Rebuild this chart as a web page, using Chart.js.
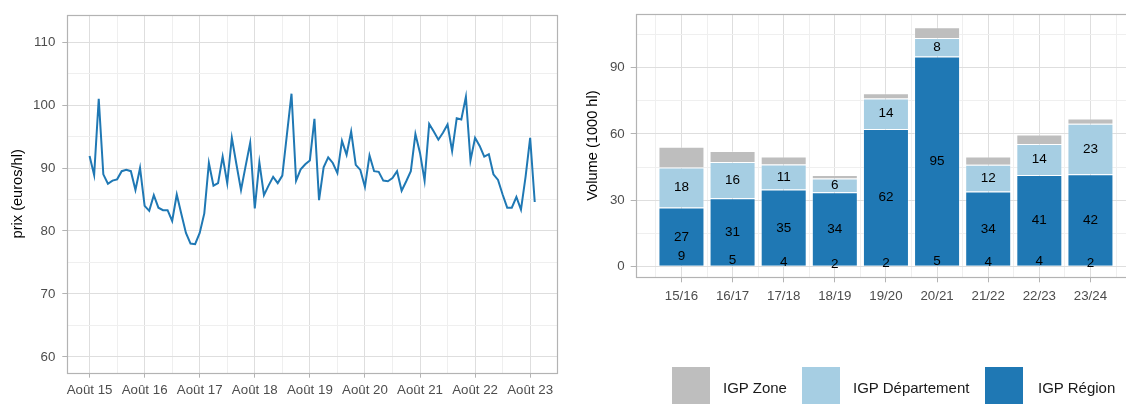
<!DOCTYPE html>
<html lang="fr">
<head>
<meta charset="utf-8">
<script src="https://cdn.jsdelivr.net/npm/chart.js@4.4.1/dist/chart.umd.min.js"></script>
<style>
  html,body{margin:0;padding:0;background:#fff;width:1126px;height:404px;overflow:hidden;font-family:"Liberation Sans",Arial,sans-serif}
  #cPrix{position:absolute;left:0;top:0}
  #cVol{position:absolute;left:565px;top:0}
  .leg-key{position:absolute;top:367px;width:38px;height:42px}
  .leg-lab{position:absolute;top:379px;font-size:15px;line-height:18px;color:#1a1a1a;white-space:nowrap}
</style>
</head>
<body>
<canvas id="cPrix" width="565" height="404"></canvas>
<canvas id="cVol" width="580" height="404"></canvas>
<div id="legende"></div>
<script>
// prix mensuel, août 2015 -> septembre 2023 (euros/hl)
const prix = [
  91.9, 88.9, 101.0, 89.0, 87.5, 88.0, 88.2, 89.5, 89.7, 89.5, 86.5, 90.0,
  84.0, 83.2, 85.7, 83.7, 83.3, 83.3, 81.6, 85.8, 82.7, 79.7, 78.0, 77.9,
  79.7, 82.8, 90.8, 87.2, 87.6, 91.8, 87.6, 94.8, 90.6, 86.5, 90.3, 94.0,
  83.6, 90.9, 85.7, 87.2, 88.6, 87.6, 88.8, 95.3, 101.8, 88.0, 89.8, 90.6,
  91.2, 97.8, 84.9, 90.1, 91.7, 90.8, 89.2, 94.3, 92.1, 95.8, 90.5, 89.7,
  87.0, 92.0, 89.5, 89.4, 88.0, 87.9, 88.4, 89.5, 86.4, 87.9, 89.5, 95.4,
  92.4, 88.0, 97.0, 95.8, 94.5, 95.6, 96.9, 92.7, 97.9, 97.7, 101.3, 91.2,
  94.8, 93.5, 91.8, 92.2, 89.0, 88.1, 85.8, 83.7, 83.7, 85.4, 83.4, 88.6,
  94.8, 84.6
];
const anneesLabels = ['Août 15','Août 16','Août 17','Août 18','Août 19','Août 20','Août 21','Août 22','Août 23'];
const prixTicks = [60,65,70,75,80,85,90,95,100,105,110];

const campagnes = ['15/16','16/17','17/18','18/19','19/20','20/21','21/22','22/23','23/24'];
const igpRegion = [26.6, 30.9, 34.8, 33.6, 62.3, 95.1, 33.9, 41.4, 41.7];
const igpDepartement = [18.2, 16.4, 11.3, 6.2, 13.8, 8.4, 12.1, 14.0, 22.9];
const igpZone = [9.4, 5.0, 3.7, 1.6, 2.4, 4.9, 3.8, 4.4, 2.4];
const volTicks = [0,15,30,45,60,75,90,105];

const COUL = {region:'#1f78b4', dept:'#a6cee3', zone:'#bebebe'};
const GRID_MAJ = '#dedede', GRID_MIN = '#efefef', TICK = '#b3b3b3', TXT = '#4d4d4d';
const FONT = '"Liberation Sans", Arial, sans-serif';

const cadre = {
  id:'cadre',
  afterDraw(chart){
    const {ctx, chartArea:a} = chart;
    ctx.save();
    ctx.strokeStyle = '#b3b3b3'; ctx.lineWidth = 1.2;
    ctx.strokeRect(Math.round(a.left)+0.5, Math.round(a.top)+0.5, Math.round(a.right-a.left), Math.round(a.bottom-a.top));
    ctx.restore();
  }
};

const tickFont = {family:FONT, size:13.3};
const titleFont = {family:FONT, size:14.6};

new Chart(document.getElementById('cPrix'), {
  type:'line',
  data:{datasets:[{data:prix.map((v,i)=>({x:i,y:v})), borderColor:COUL.region, borderWidth:2,
    pointRadius:0, tension:0, fill:false}]},
  options:{
    responsive:false, animation:false,
    layout:{padding:{top:8.3, right:8, left:0, bottom:0}},
    plugins:{legend:{display:false}, tooltip:{enabled:false}},
    scales:{
      x:{type:'linear', min:-4.85, max:101.85,
        afterBuildTicks:s=>{s.ticks = anneesLabels.flatMap((_,k)=>k<anneesLabels.length-1?[k*12,k*12+6]:[k*12]).map(v=>({value:v}));},
        afterFit:s=>{s.height = 31.3;},
        border:{display:false},
        grid:{color:c=>c.tick.value%12===0?GRID_MAJ:GRID_MIN, tickColor:c=>c.tick.value%12===0?TICK:'rgba(0,0,0,0)', tickLength:5},
        ticks:{autoSkip:false, maxRotation:0, padding:5, color:TXT, font:tickFont,
          callback:v=>v%12===0?anneesLabels[v/12]:''}
      },
      y:{min:57.5, max:114.3,
        afterBuildTicks:s=>{s.ticks = prixTicks.map(v=>({value:v}));},
        afterFit:s=>{s.width = 67.3;},
        border:{display:false},
        grid:{color:c=>c.tick.value%10===0?GRID_MAJ:GRID_MIN, tickColor:c=>c.tick.value%10===0?TICK:'rgba(0,0,0,0)', tickLength:5},
        ticks:{autoSkip:false, padding:7, color:TXT, font:tickFont, callback:v=>v%10===0?String(v):''},
        title:{display:true, text:'prix (euros/hl)', color:'#000', font:titleFont, padding:{top:9.5, bottom:0}}
      }
    }
  },
  plugins:[cadre]
});

// étiquettes des barres (zone posée depuis zéro, comme sur l'original)
const etiquettes = {
  id:'etiquettes',
  afterDatasetsDraw(chart){
    const {ctx} = chart, y = chart.scales.y, m = chart.getDatasetMeta(0);
    ctx.save();
    ctx.fillStyle = '#000'; ctx.font = `13.5px ${FONT}`;
    ctx.textAlign = 'center'; ctx.textBaseline = 'middle';
    campagnes.forEach((_,i)=>{
      const x = m.data[i].x;
      ctx.fillText(Math.round(igpRegion[i]), x, y.getPixelForValue(igpRegion[i]/2));
      ctx.fillText(Math.round(igpDepartement[i]), x, y.getPixelForValue(igpRegion[i]+igpDepartement[i]/2));
      ctx.fillText(Math.round(igpZone[i]), x, y.getPixelForValue(igpZone[i]/2));
    });
    ctx.restore();
  }
};

const serie = (label, vals, col) => ({label, data:vals.map((v,i)=>({x:i,y:v})), backgroundColor:col,
  borderColor:'rgba(255,255,255,0.35)', borderWidth:1, xAxisID:'x', yAxisID:'y'});

new Chart(document.getElementById('cVol'), {
  type:'bar',
  data:{datasets:[
    serie('IGP Région', igpRegion, COUL.region),
    serie('IGP Département', igpDepartement, COUL.dept),
    serie('IGP Zone', igpZone, COUL.zone)
  ]},
  options:{
    responsive:false, animation:false,
    datasets:{bar:{barPercentage:0.9, categoryPercentage:1}},
    layout:{padding:{top:7.3, right:8.8, left:0, bottom:96.7}},
    plugins:{legend:{display:false}, tooltip:{enabled:false}},
    scales:{
      x:{type:'linear', stacked:true, offset:false, min:-0.895, max:8.895,
        afterBuildTicks:s=>{s.ticks = campagnes.map((_,i)=>({value:i}));},
        afterFit:s=>{s.height = 30;},
        border:{display:false},
        grid:{offset:false, color:GRID_MAJ, tickColor:TICK, tickLength:5},
        ticks:{autoSkip:false, maxRotation:0, padding:6, color:TXT, font:tickFont, callback:v=>campagnes[v]}
      },
      x2:{type:'linear', position:'bottom', offset:false, min:-0.895, max:8.895,
        afterBuildTicks:s=>{s.ticks = campagnes.concat(['']).map((_,i)=>({value:i-0.5}));},
        afterFit:s=>{s.height = 0;},
        border:{display:false},
        grid:{offset:false, color:GRID_MIN, drawTicks:false},
        ticks:{display:false}
      },
      y:{stacked:true, min:-5, max:114.4,
        afterBuildTicks:s=>{s.ticks = volTicks.map(v=>({value:v}));},
        afterFit:s=>{s.width = 70.7;},
        border:{display:false},
        grid:{color:c=>c.tick.value%30===0?GRID_MAJ:GRID_MIN, tickColor:c=>c.tick.value%30===0?TICK:'rgba(0,0,0,0)', tickLength:5},
        ticks:{autoSkip:false, padding:6, color:TXT, font:tickFont, callback:v=>v%30===0?String(v):''},
        title:{display:true, text:'Volume (1000 hl)', color:'#000', font:titleFont, padding:{top:19.5, bottom:0}}
      }
    }
  },
  plugins:[cadre, etiquettes]
});

const legendeItems = [
  {lab:'IGP Zone', col:COUL.zone, key:672, txt:723},
  {lab:'IGP Département', col:COUL.dept, key:802, txt:853},
  {lab:'IGP Région', col:COUL.region, key:985, txt:1038}
];
document.getElementById('legende').innerHTML = legendeItems.map(it=>
  `<div class="leg-key" style="left:${it.key}px;background:${it.col}"></div><div class="leg-lab" style="left:${it.txt}px">${it.lab}</div>`
).join('');
</script>
</body>
</html>
